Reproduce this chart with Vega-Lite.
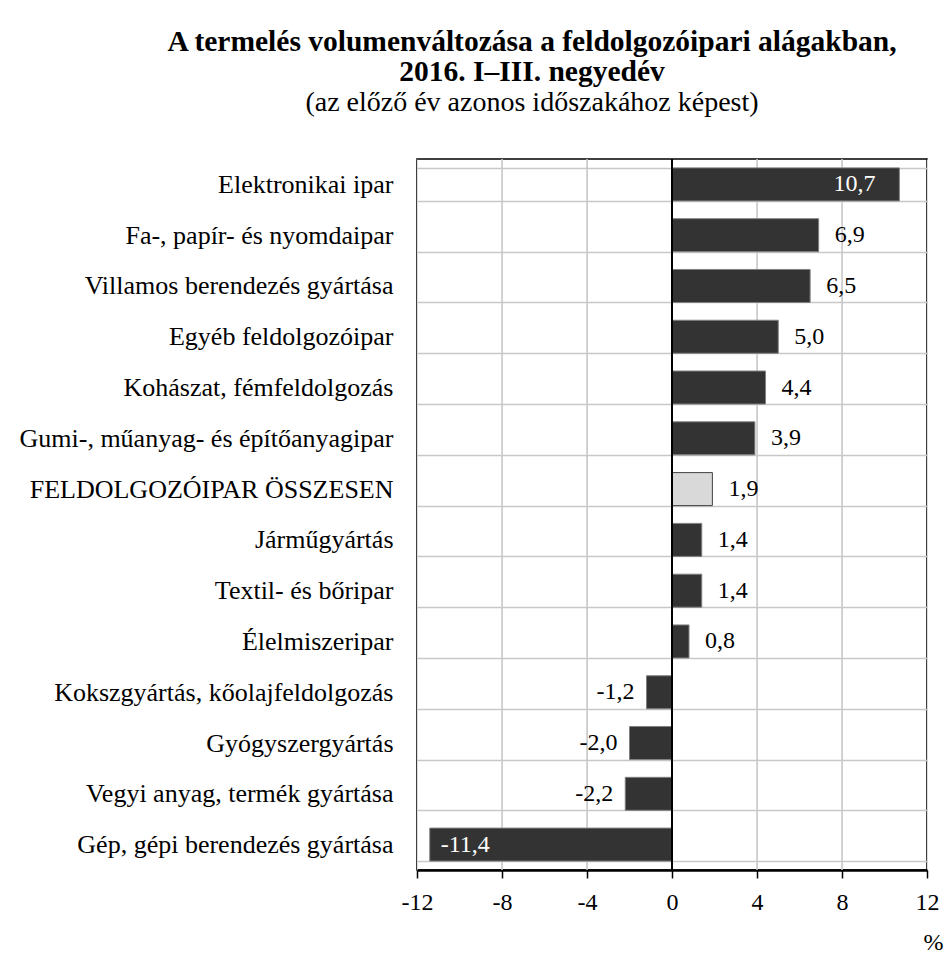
{
  "$schema": "https://vega.github.io/schema/vega-lite/v6.json",
  "autosize": {"type": "none"},
  "padding": {"left": 417, "top": 159, "right": 22, "bottom": 86},
  "width": 510,
  "height": 711,
  "background": "white",
  "title": {
    "text": ["A termelés volumenváltozása a feldolgozóipari alágakban,", "2016. I–III. negyedév"],
    "subtitle": "(az előző év azonos időszakához képest)",
    "anchor": "middle",
    "frame": "group",
    "dx": -140,
    "offset": 28,
    "font": "Liberation Serif",
    "fontSize": 29.5,
    "fontWeight": "bold",
    "lineHeight": 30,
    "color": "black",
    "subtitleFont": "Liberation Serif",
    "subtitleFontSize": 28,
    "subtitleColor": "black",
    "subtitlePadding": 2
  },
  "config": {
    "view": {"stroke": "black", "strokeWidth": 1.5},
    "font": "Liberation Serif",
    "axisX": {
      "domainColor": "black", "domainWidth": 2.5,
      "tickColor": "black", "tickWidth": 1.5, "tickSize": 8,
      "labelFont": "Liberation Serif", "labelFontSize": 24, "labelColor": "black",
      "labelPadding": 12, "labelFlush": false
    },
    "axisY": {
      "domain": false, "ticks": false, "grid": true, "tickBand": "extent",
      "gridColor": "#c8c8c8", "gridWidth": 1.5,
      "labelFont": "Liberation Serif", "labelFontSize": 26, "labelColor": "black",
      "labelPadding": 24, "labelLimit": 420
    }
  },
  "datasets": {
    "rows": [
      {"cat": "Elektronikai ipar", "value": 10.7, "label": "10,7"},
      {"cat": "Fa-, papír- és nyomdaipar", "value": 6.9, "label": "6,9"},
      {"cat": "Villamos berendezés gyártása", "value": 6.5, "label": "6,5"},
      {"cat": "Egyéb feldolgozóipar", "value": 5.0, "label": "5,0"},
      {"cat": "Kohászat, fémfeldolgozás", "value": 4.4, "label": "4,4"},
      {"cat": "Gumi-, műanyag- és építőanyagipar", "value": 3.9, "label": "3,9"},
      {"cat": "FELDOLGOZÓIPAR ÖSSZESEN", "value": 1.9, "label": "1,9"},
      {"cat": "Járműgyártás", "value": 1.4, "label": "1,4"},
      {"cat": "Textil- és bőripar", "value": 1.4, "label": "1,4"},
      {"cat": "Élelmiszeripar", "value": 0.8, "label": "0,8"},
      {"cat": "Kokszgyártás, kőolajfeldolgozás", "value": -1.2, "label": "-1,2"},
      {"cat": "Gyógyszergyártás", "value": -2.0, "label": "-2,0"},
      {"cat": "Vegyi anyag, termék gyártása", "value": -2.2, "label": "-2,2"},
      {"cat": "Gép, gépi berendezés gyártása", "value": -11.4, "label": "-11,4"}
    ],
    "grid": [{"value": -8}, {"value": -4}, {"value": 4}, {"value": 8}]
  },
  "data": {"name": "rows"},
  "layer": [
    {
      "data": {"name": "grid"},
      "mark": {"type": "rule", "color": "#c8c8c8", "strokeWidth": 1.5},
      "encoding": {"x": {"field": "value", "type": "quantitative"}}
    },
    {
      "mark": {"type": "bar", "strokeWidth": 1},
      "encoding": {
        "y": {
          "field": "cat", "type": "nominal", "sort": null,
          "scale": {"paddingInner": 0.35, "paddingOuter": 0.175},
          "axis": {"title": null, "orient": "left"}
        },
        "x": {
          "field": "value", "type": "quantitative",
          "scale": {"domain": [-12, 12], "nice": false, "zero": false},
          "axis": {
            "values": [-12, -8, -4, 0, 4, 8, 12],
            "labelExpr": "'' + datum.value",
            "title": "%", "titleFont": "Liberation Serif", "titleFontSize": 24,
            "titleFontWeight": "normal", "titleColor": "black",
            "titleAnchor": "end", "titleAlign": "left", "titleX": 506, "titleY": 79,
            "titleBaseline": "alphabetic"
          }
        },
        "fill": {
          "condition": {"test": "datum.cat === 'FELDOLGOZÓIPAR ÖSSZESEN'", "value": "#d9d9d9"},
          "value": "#333333"
        },
        "stroke": {
          "condition": {"test": "datum.cat === 'FELDOLGOZÓIPAR ÖSSZESEN'", "value": "#404040"},
          "value": "#808080"
        }
      }
    },
    {
      "mark": {"type": "rule", "color": "black", "strokeWidth": 2},
      "encoding": {"x": {"datum": 0, "type": "quantitative"}}
    },
    {
      "transform": [{"filter": "datum.value > 0 && datum.value < 10"}],
      "mark": {"type": "text", "align": "left", "dx": 16, "fontSize": 24, "font": "Liberation Serif", "color": "black"},
      "encoding": {
        "y": {"field": "cat", "type": "nominal", "sort": null},
        "x": {"field": "value", "type": "quantitative"},
        "text": {"field": "label"}
      }
    },
    {
      "transform": [{"filter": "datum.value >= 10"}],
      "mark": {"type": "text", "align": "right", "dx": -24, "fontSize": 24, "font": "Liberation Serif", "color": "white"},
      "encoding": {
        "y": {"field": "cat", "type": "nominal", "sort": null},
        "x": {"field": "value", "type": "quantitative"},
        "text": {"field": "label"}
      }
    },
    {
      "transform": [{"filter": "datum.value < 0 && datum.value > -10"}],
      "mark": {"type": "text", "align": "right", "dx": -12, "fontSize": 24, "font": "Liberation Serif", "color": "black"},
      "encoding": {
        "y": {"field": "cat", "type": "nominal", "sort": null},
        "x": {"field": "value", "type": "quantitative"},
        "text": {"field": "label"}
      }
    },
    {
      "transform": [{"filter": "datum.value <= -10"}],
      "mark": {"type": "text", "align": "left", "dx": 11, "fontSize": 24, "font": "Liberation Serif", "color": "white"},
      "encoding": {
        "y": {"field": "cat", "type": "nominal", "sort": null},
        "x": {"field": "value", "type": "quantitative"},
        "text": {"field": "label"}
      }
    }
  ]
}
